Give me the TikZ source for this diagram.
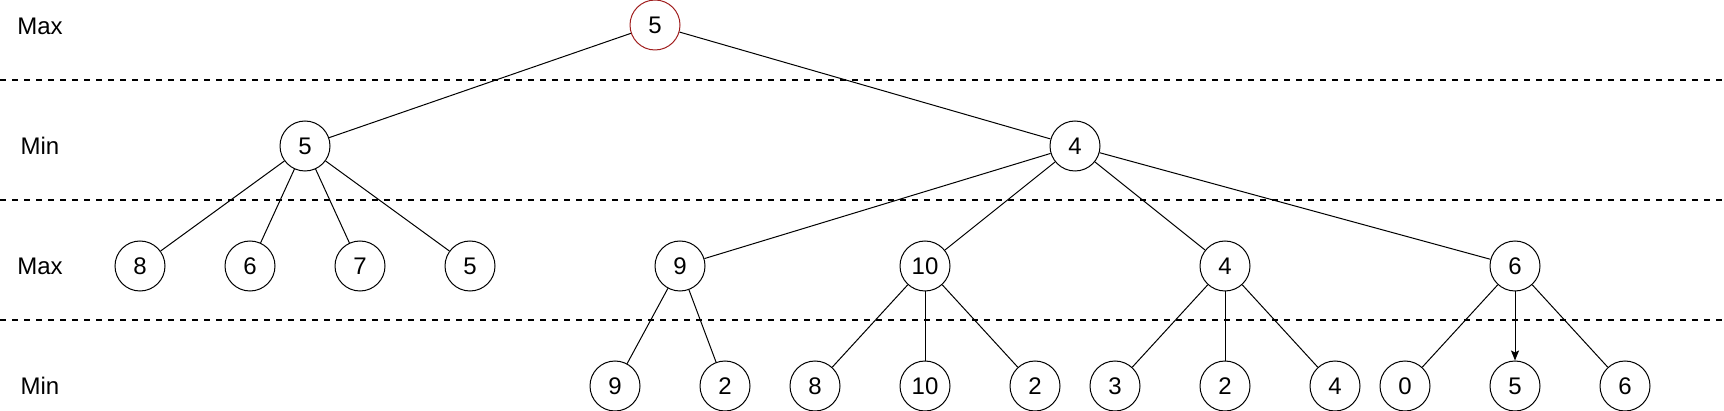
\documentclass[tikz,border=0pt]{standalone}
\usepackage{fontspec}
\setmainfont{Liberation Sans}
\usetikzlibrary{arrows.meta}
\definecolor{R1}{RGB}{160,30,30}

\begin{document}
\begin{tikzpicture}[x=0.5pt, y=-0.5pt, font=\fontsize{12}{14}\selectfont,
    val/.style={draw, circle, minimum size=25pt, inner sep=0pt, line width=0.5pt},
    edge/.style={line width=0.5pt},
    sep/.style={line width=1pt, dash pattern=on 3pt off 3pt}]
      \useasboundingbox (0,0) rectangle (1724,411);
      % level separators
      \draw[sep] (0, 80)--(1724, 80);
      \draw[sep] (0, 200)--(1724, 200);
      \draw[sep] (0, 320)--(1724, 320);
      % level names
      \node (tMax1) at (40, 26) {Max};
      \node (tMin1) at (40, 146) {Min};
      \node (tMax2) at (40, 266) {Max};
      \node (tMin2) at (40, 386) {Min};
      % nodes
      \node[val, draw=R1] (root) at (655, 25) {5};
      \node[val] (mA) at (305, 146) {5};
      \node[val] (mB) at (1075, 146) {4};
      \node[val] (a1) at (140, 266) {8};
      \node[val] (a2) at (250, 266) {6};
      \node[val] (a3) at (360, 266) {7};
      \node[val] (a4) at (470, 266) {5};
      \node[val] (b1) at (680, 266) {9};
      \node[val] (b2) at (925, 266) {10};
      \node[val] (b3) at (1225, 266) {4};
      \node[val] (b4) at (1515, 266) {6};
      \node[val] (l1) at (615, 386) {9};
      \node[val] (l2) at (725, 386) {2};
      \node[val] (l3) at (815, 386) {8};
      \node[val] (l4) at (925, 386) {10};
      \node[val] (l5) at (1035, 386) {2};
      \node[val] (l6) at (1115, 386) {3};
      \node[val] (l7) at (1225, 386) {2};
      \node[val] (l8) at (1335, 386) {4};
      \node[val] (l9) at (1405, 386) {0};
      \node[val] (l10) at (1515, 386) {5};
      \node[val] (l11) at (1625, 386) {6};
      % edges
      \draw[edge] (root)--(mA); \draw[edge] (root)--(mB);
      \draw[edge] (mA)--(a1); \draw[edge] (mA)--(a2);
      \draw[edge] (mA)--(a3); \draw[edge] (mA)--(a4);
      \draw[edge] (mB)--(b1); \draw[edge] (mB)--(b2);
      \draw[edge] (mB)--(b3); \draw[edge] (mB)--(b4);
      \draw[edge] (b1)--(l1); \draw[edge] (b1)--(l2);
      \draw[edge] (b2)--(l3); \draw[edge] (b2)--(l4); \draw[edge] (b2)--(l5);
      \draw[edge] (b3)--(l6); \draw[edge] (b3)--(l7); \draw[edge] (b3)--(l8);
      \draw[edge] (b4)--(l9); \draw[edge] (b4)--(l11);
      \draw[edge, -{Stealth[length=5pt, width=4pt, inset=1pt]}] (b4)--(l10);
    \end{tikzpicture}
\end{document}
